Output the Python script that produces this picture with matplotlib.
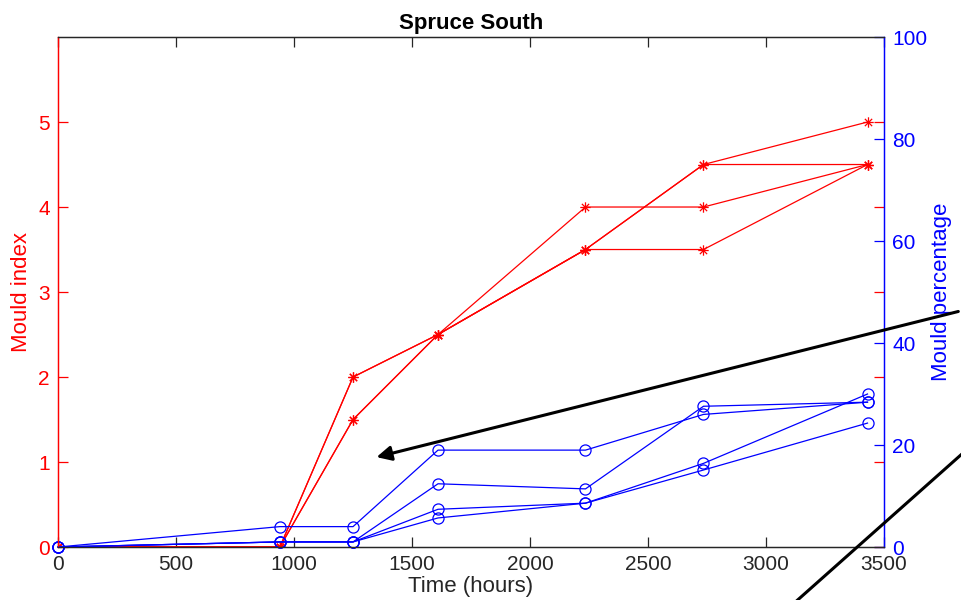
# libraries
import numpy as np
import matplotlib
matplotlib.use('Agg')
import matplotlib.pyplot as plt
from matplotlib.path import Path
from matplotlib.patches import FancyArrowPatch
from matplotlib.lines import Line2D

plt.rcParams['font.family'] = ['Liberation Sans', 'DejaVu Sans']

# time of each inspection (hours)
hours = [0, 940, 1250, 1610, 2235, 2735, 3430]

# mould index, left axis
index_1 = [0, 0, 2.0, 2.5, 4.0, 4.0, 4.5]
index_2 = [0, 0, 1.5, 2.5, 3.5, 4.5, 5.0]
index_3 = [0, 0, 1.5, 2.5, 3.5, 4.5, 4.5]
index_4 = [0, 0, 2.0, 2.5, 3.5, 3.5, 4.5]

# mould percentage, right axis
pct_1 = [0, 4, 4, 19.0, 19.0, 26.0, 28.4]
pct_2 = [0, 1, 1, 12.4, 11.4, 27.6, 28.4]
pct_3 = [0, 1, 1, 7.4, 8.6, 16.4, 30.0]
pct_4 = [0, 1, 1, 5.7, 8.6, 15.1, 24.3]

x_ticks = [0, 500, 1000, 1500, 2000, 2500, 3000, 3500]
left_ticks = [0, 1, 2, 3, 4, 5]
right_ticks = [0, 20, 40, 60, 80, 100]

red = '#ff0000'
blue = '#0000ff'
grey = '#262626'

# matlab style asterisk marker
asterisk = Path([(-1, 0), (1, 0), (0, -1), (0, 1),
                 (-0.7, -0.7), (0.7, 0.7), (-0.7, 0.7), (0.7, -0.7)],
                [Path.MOVETO, Path.LINETO] * 4)

fig = plt.figure(figsize=(9.61, 6.0), dpi=100)
ax = fig.add_axes([0.0604, 0.0883, 0.8595, 0.85])
ax2 = ax.twinx()

for s in [index_1, index_2, index_3, index_4]:
    ax.plot(hours, s, color=red, lw=0.9, marker=asterisk, markersize=7.5, mew=0.9)

for s in [pct_1, pct_2, pct_3, pct_4]:
    ax2.plot(hours, s, color=blue, lw=0.9, marker='o', markersize=8,
             mfc='none', mew=0.9, clip_on=False)

ax.set_xlim(0, 3500)
ax.set_ylim(0, 6)
ax2.set_ylim(0, 100)
ax.set_xticks(x_ticks)
ax.set_yticks(left_ticks)
ax2.set_yticks(right_ticks)

ax.tick_params(axis='x', direction='in', top=True, length=7, width=0.9,
               colors=grey, labelsize=15, pad=6)
ax.tick_params(axis='y', direction='in', right=True, length=7, width=0.9,
               colors=red, labelsize=15, pad=6)
ax2.tick_params(axis='y', direction='in', length=7, width=0.9,
                colors=blue, labelsize=15, pad=6)

for a in (ax, ax2):
    a.spines['top'].set_color(grey)
    a.spines['bottom'].set_color(grey)
    a.spines['left'].set_color(red)
    a.spines['right'].set_color(blue)
    for sp in a.spines.values():
        sp.set_linewidth(0.9)

ax.set_xlabel('Time (hours)', fontsize=16, color=grey, labelpad=1)
ax.set_ylabel('Mould index', fontsize=16, color=red)
ax.yaxis.set_label_coords(-0.032, 0.5)
ax2.set_ylabel('Mould percentage', fontsize=16, color=blue)
ax2.yaxis.set_label_coords(1.057, 0.5)
ax.set_title('Spruce South', fontsize=16, fontweight='bold', pad=6)

# black pointer lines drawn over the figure
arrow = FancyArrowPatch((1.0, 0.482), (0.389, 0.237), transform=fig.transFigure,
                        arrowstyle='-|>', mutation_scale=22, lw=2.2, color='k')
fig.add_artist(arrow)
fig.add_artist(Line2D([1.0, 0.83], [0.242, 0.0], transform=fig.transFigure,
                      color='k', lw=2.2))

plt.savefig('out.png', dpi=100)
